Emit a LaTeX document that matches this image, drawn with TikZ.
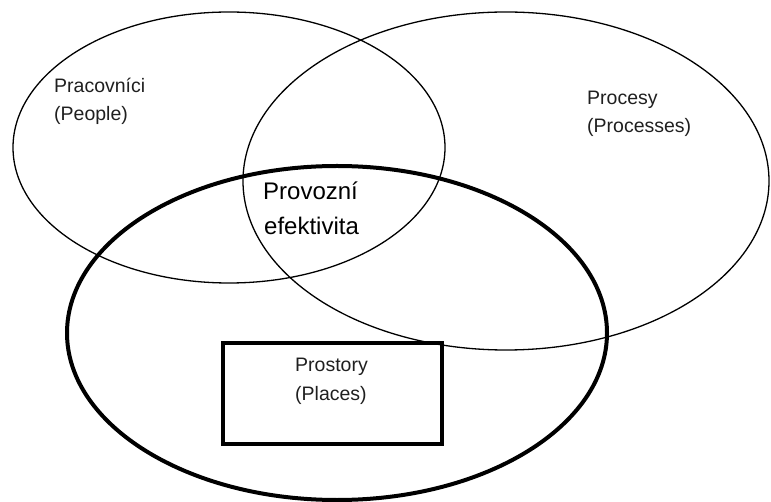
\documentclass[tikz,border=0pt]{standalone}
\usepackage{fontspec}
\setmainfont{Liberation Sans}
\begin{document}
\begin{tikzpicture}[x=1pt,y=-1pt,
  thinring/.style={draw=black,line width=1.3pt},
  boldring/.style={draw=black,line width=4pt},
  label/.style={inner sep=0pt,anchor=base west,font=\fontsize{19.5}{24}\selectfont,text=black!88},
  biglabel/.style={inner sep=0pt,anchor=base west,font=\fontsize{24}{30}\selectfont,text=black},
  placebox/.style={draw=black,line width=4pt,minimum width=219pt,minimum height=101pt,inner sep=0pt}]
  \useasboundingbox (0,0) rectangle (771,502);
  % three overlapping areas
  \draw[thinring] (229,147.5) ellipse (216 and 135.5);
  \draw[thinring] (506,181) ellipse (263 and 169);
  \draw[boldring] (337,333) ellipse (270 and 167);
  % places box
  \node[placebox] (places) at (332.5,393.5) {};
  % labels
  \node[label] (people1) at (54,93) {Pracovníci};
  \node[label] (people2) at (54,121) {(People)};
  \node[label] (proc1) at (587,105) {Procesy};
  \node[label] (proc2) at (587,133) {(Processes)};
  \node[label] (place1) at (295,372) {Prostory};
  \node[label] (place2) at (295,400) {(Places)};
  \node[biglabel] (eff1) at (263,200) {Provozní};
  \node[biglabel] (eff2) at (264,235) {efektivita};
\end{tikzpicture}
\end{document}
